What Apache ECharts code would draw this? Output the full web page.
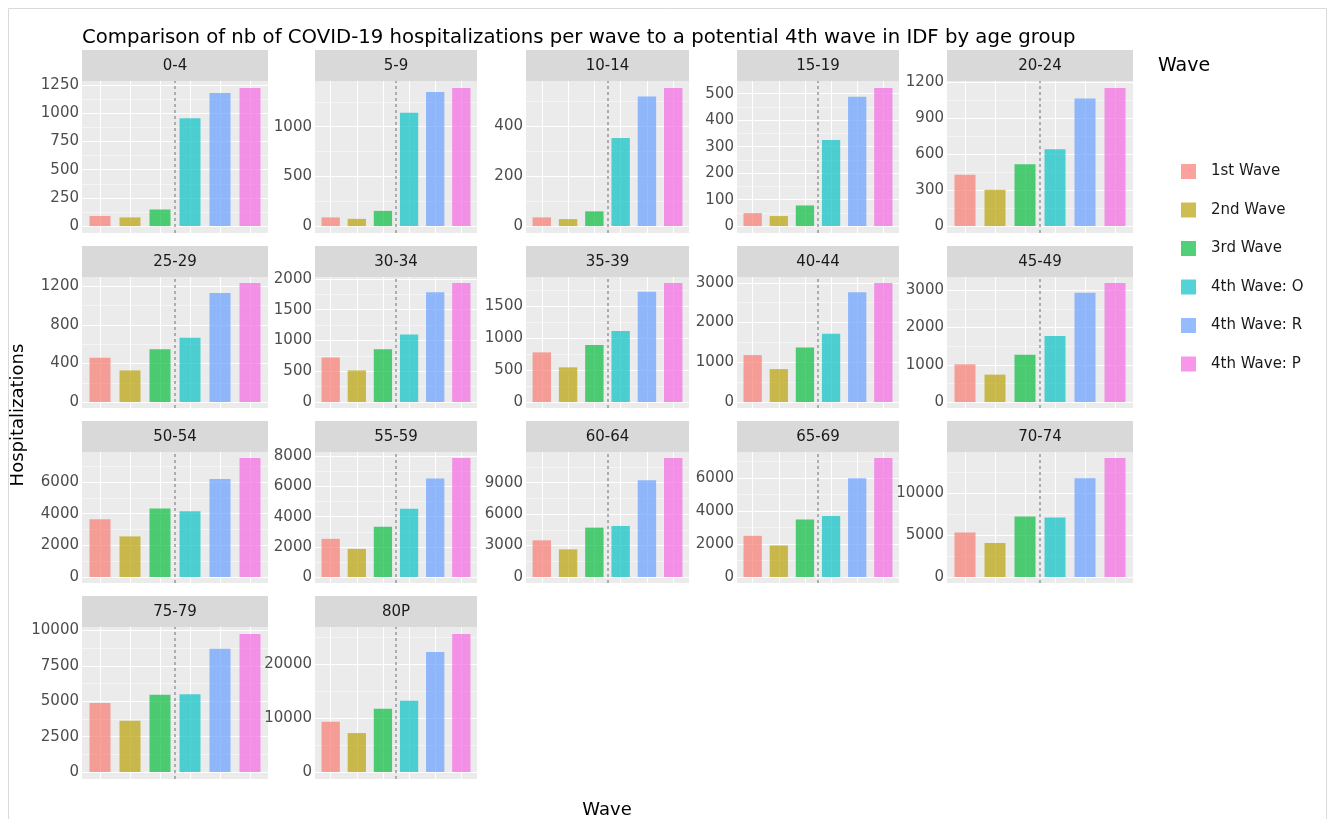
<!DOCTYPE html>
<html>
<head>
<meta charset="utf-8">
<title>COVID-19 hospitalizations per wave by age group</title>
<script src="https://cdn.jsdelivr.net/npm/echarts@6/dist/echarts.min.js"></script>
<style>
  html, body { margin: 0; padding: 0; background: #ffffff; }
  #chart { width: 1336px; height: 819px; }
</style>
</head>
<body>
<div id="chart"></div>
<script>
// ---- data ---------------------------------------------------------------
const ageGroups = ['0-4', '5-9', '10-14', '15-19', '20-24',
                   '25-29', '30-34', '35-39', '40-44', '45-49',
                   '50-54', '55-59', '60-64', '65-69', '70-74',
                   '75-79', '80P'];

const waves = ['1st Wave', '2nd Wave', '3rd Wave', '4th Wave: O', '4th Wave: R', '4th Wave: P'];

const wave1st  = [90, 87, 35, 49, 427, 459, 724, 776, 1181, 1012, 3648, 2533, 3499, 2500, 5286, 4883, 9315];
const wave2nd  = [77, 73, 28, 38, 302, 328, 513, 542, 829, 736, 2566, 1867, 2641, 1915, 4048, 3630, 7222];
const wave3rd  = [147, 153, 59, 78, 515, 548, 859, 891, 1374, 1273, 4323, 3333, 4709, 3500, 7190, 5470, 11722];
const wave4thO = [957, 1140, 353, 325, 640, 666, 1097, 1109, 1718, 1773, 4155, 4533, 4862, 3701, 7071, 5492, 13204];
const wave4thR = [1180, 1350, 519, 489, 1061, 1131, 1783, 1725, 2764, 2938, 6190, 6533, 9218, 6000, 11750, 8705, 22222];
const wave4thP = [1225, 1390, 553, 522, 1150, 1235, 1935, 1861, 2995, 3199, 7520, 7900, 11350, 7230, 14150, 9760, 25550];

// spacing of the labelled y ticks in each panel
const tickSteps = [250, 500, 200, 100, 300,
                   400, 500, 500, 1000, 1000,
                   2000, 2000, 3000, 2000, 5000,
                   2500, 10000];

// ---- styling / layout -----------------------------------------------------
const seriesValues = [wave1st, wave2nd, wave3rd, wave4thO, wave4thR, wave4thP];
const waveColors = ['#F8766D', '#B79F00', '#00BA38', '#00BFC4', '#619CFF', '#F564E3'];
const BAR_ALPHA = 0.68;
const FONT = 'DejaVu Sans';

const colLeft   = [82, 315, 526, 737, 947];
const colWidth  = [186, 162, 163, 162, 186];
const rowTop    = [81, 277, 452, 627];
const rowHeight = [152, 131, 131, 152];
const STRIP_H = 31;

const X_MIN = 0.4, X_MAX = 6.6;   // discrete scale padded by 0.6 on each side
const DIVIDER = 3.5;              // dashed line between past waves and 4th-wave scenarios
const BAR_UNITS = 0.7;            // bar width in category units

function rgba(hex, a) {
  const n = parseInt(hex.slice(1), 16);
  return 'rgba(' + (n >> 16) + ',' + ((n >> 8) & 255) + ',' + (n & 255) + ',' + a + ')';
}

const grids = [], xAxes = [], yAxes = [], series = [], graphics = [];

ageGroups.forEach((age, i) => {
  const r = Math.floor(i / 5), c = i % 5;
  const left = colLeft[c], top = rowTop[r], w = colWidth[c], h = rowHeight[r];

  grids.push({
    left: left, top: top, width: w, height: h,
    show: true, backgroundColor: '#EBEBEB', borderWidth: 0
  });

  xAxes.push({
    type: 'value', gridIndex: i, min: X_MIN, max: X_MAX,
    axisLine: { show: false },
    axisLabel: { show: false },
    axisTick: { show: false, customValues: [1, 2, 3, 4, 5, 6] },
    splitLine: { show: true, lineStyle: { color: '#FFFFFF', width: 1.1 } }
  });

  const vals = seriesValues.map(s => s[i]);
  const peak = Math.max.apply(null, vals);
  const lo = -0.05 * peak, hi = 1.05 * peak;
  const step = tickSteps[i];
  const majors = [], minors = [];
  for (let v = 0; v <= hi; v += step) majors.push(v);
  for (let v = step / 2; v <= hi; v += step) minors.push(v);

  // main axis: labels + major grid lines
  yAxes.push({
    type: 'value', gridIndex: i, min: lo, max: hi, position: 'left',
    axisLine: { show: false },
    axisTick: { show: false, customValues: majors },
    axisLabel: {
      customValues: majors, formatter: v => String(Math.round(v)),
      color: '#4D4D4D', fontSize: 15, fontFamily: FONT, margin: 3
    },
    splitLine: { show: true, lineStyle: { color: '#FFFFFF', width: 1.1 } }
  });
  // companion axis: minor grid lines only
  yAxes.push({
    type: 'value', gridIndex: i, min: lo, max: hi, position: 'left',
    axisLine: { show: false },
    axisTick: { show: false, customValues: minors },
    axisLabel: { show: false },
    splitLine: { show: true, lineStyle: { color: '#FFFFFF', width: 0.5 } }
  });

  const barPx = BAR_UNITS * w / (X_MAX - X_MIN);
  waves.forEach((name, k) => {
    const s = {
      type: 'bar', name: name,
      xAxisIndex: i, yAxisIndex: 2 * i,
      data: [[k + 1, seriesValues[k][i]]],
      barWidth: barPx, barGap: '-100%',
      itemStyle: { color: rgba(waveColors[k], BAR_ALPHA) },
      silent: true
    };
    if (k === 0) {
      s.markLine = {
        silent: true, symbol: 'none', animation: false,
        label: { show: false },
        lineStyle: { color: '#999999', type: [3, 3], width: 1.5 },
        data: [{ xAxis: DIVIDER }]
      };
    }
    series.push(s);
  });

  // facet strip
  graphics.push({
    type: 'rect', silent: true,
    shape: { x: left, y: top - STRIP_H, width: w, height: STRIP_H },
    style: { fill: '#D9D9D9' }
  });
  graphics.push({
    type: 'text', silent: true,
    x: left + w / 2, y: top - STRIP_H / 2 + 1,
    style: {
      text: age, fill: '#1A1A1A', font: '15px "' + FONT + '"',
      textAlign: 'center', textVerticalAlign: 'middle'
    }
  });
});

// outer frame
graphics.push({
  type: 'rect', silent: true, z: -10,
  shape: { x: 8.5, y: 8.5, width: 1318, height: 830 },
  style: { fill: 'none', stroke: '#DADADA', lineWidth: 1 }
});
// axis titles and legend title
graphics.push({
  type: 'text', silent: true, x: 18, y: 415, rotation: Math.PI / 2,
  style: { text: 'Hospitalizations', fill: '#000000', font: '18px "' + FONT + '"',
           textAlign: 'center', textVerticalAlign: 'middle' }
});
graphics.push({
  type: 'text', silent: true, x: 607, y: 810,
  style: { text: 'Wave', fill: '#000000', font: '18px "' + FONT + '"',
           textAlign: 'center', textVerticalAlign: 'middle' }
});
graphics.push({
  type: 'text', silent: true, x: 1158, y: 66,
  style: { text: 'Wave', fill: '#000000', font: '19px "' + FONT + '"',
           textAlign: 'left', textVerticalAlign: 'middle' }
});

const chart = echarts.init(document.getElementById('chart'), null, { renderer: 'canvas' });
chart.setOption({
  animation: false,
  backgroundColor: '#FFFFFF',
  title: {
    text: 'Comparison of nb of COVID-19 hospitalizations per wave to a potential 4th wave in IDF by age group',
    left: 82, top: 28, padding: 0,
    textStyle: { fontFamily: FONT, fontSize: 19.7, fontWeight: 'normal', color: '#000000' }
  },
  legend: {
    data: waves,
    orient: 'vertical', left: 1176, top: 159,
    itemWidth: 15, itemHeight: 15, itemGap: 23.5,
    icon: 'rect', selectedMode: false,
    textStyle: { fontFamily: FONT, fontSize: 15, color: '#1A1A1A', padding: [0, 0, 0, 10], lineHeight: 15 }
  },
  grid: grids,
  xAxis: xAxes,
  yAxis: yAxes,
  series: series,
  graphic: graphics
});
</script>
</body>
</html>
